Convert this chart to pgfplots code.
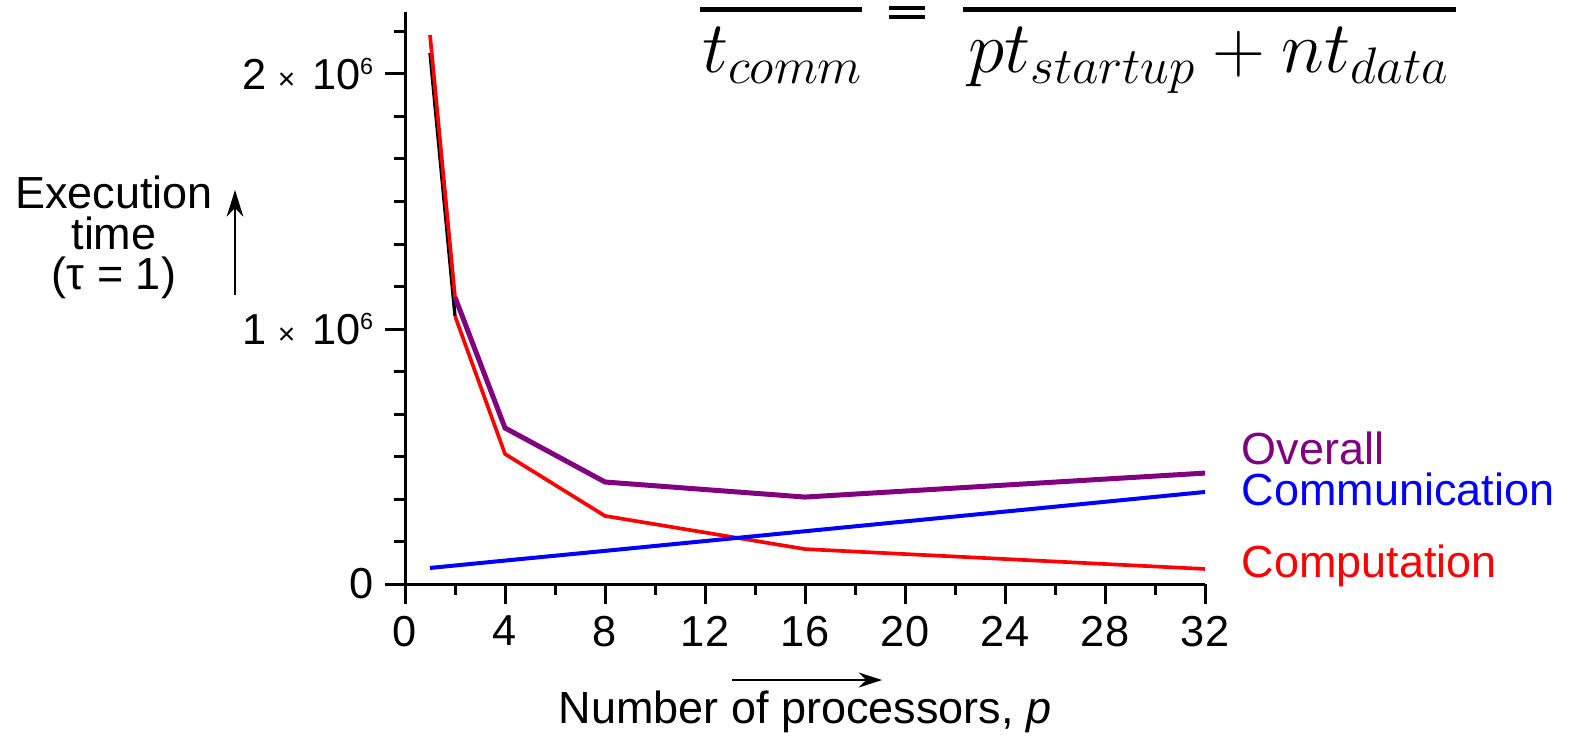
\RequirePackage{fix-cm}
\documentclass[border=0pt]{standalone}
\usepackage{fontspec}
\setmainfont{Liberation Sans}
\usepackage{pgfplots}
\pgfplotsset{compat=1.18}
\usetikzlibrary{arrows.meta}

\definecolor{mplpurple}{RGB}{128,0,128}
\definecolor{mplblue}{RGB}{0,0,255}
\definecolor{mplred}{RGB}{255,0,0}

\newcommand{\lab}{\fontsize{13.5}{16}\selectfont}
\newcommand{\tic}{\fontsize{13}{15}\selectfont}
\newcommand{\ysci}[1]{#1\hspace{3.5pt}{\fontsize{9}{9}\selectfont ×}\hspace{5pt}10\raisebox{4.5pt}{\fontsize{7}{7}\selectfont 6}}

\begin{document}
\begin{tikzpicture}
\useasboundingbox (0,0) rectangle (471pt,-220.5pt);
\begin{scope}[x=0.3pt,y=-0.3pt]
  \coordinate (O) at (405,584);
  % formula strip, cut off at the top edge
  \draw[line width=1.3pt] (700,9.5) -- (862,9.5);
  \draw[line width=1.3pt] (963,9.5) -- (1456,9.5);
  \draw[line width=1.2pt] (889,8) -- (925,8) (889,17) -- (925,17);
  \node[anchor=base,inner sep=0] at (783,72) {\fontsize{22}{26}\selectfont$t_{comm}$};
  \node[anchor=base,inner sep=0] at (1209,72) {\fontsize{22}{26}\selectfont$pt_{startup}+nt_{data}$};
  % y label, three tight lines
  \node[anchor=base,inner sep=0,font=\lab,text depth=0pt] at (114,208) {Execution};
  \node[anchor=base,inner sep=0,font=\lab,text depth=0pt,text height=7pt] at (114,249) {time};
  \node[anchor=base,inner sep=0,font=\lab,text height=8pt] at (114,289) {(τ = 1)};
  \draw[line width=0.7pt,-{Stealth[length=8pt,width=5pt]}] (235,295) -- (235,190);
  % x label
  \node[anchor=base,inner sep=0,font=\lab] at (805,723) {Number of processors, \textit{p}};
  \draw[line width=0.7pt,-{Stealth[length=7pt,width=4.5pt]}] (732,680) -- (882,680);
  % curve names
  \node[anchor=base west,inner sep=0,font=\lab,text=mplpurple] at (1241,464) {Overall};
  \node[anchor=base west,inner sep=0,font=\lab,text=mplblue] at (1241,505) {Communication};
  \node[anchor=base west,inner sep=0,font=\lab,text=mplred] at (1241,577) {Computation};
\end{scope}

\begin{axis}[
  at={(O)}, anchor=south west,
  scale only axis, width=240pt, height=171.6pt,
  xmin=0, xmax=32, ymin=0, ymax=2243000,
  axis lines=left, axis line style={-, line width=0.9pt},
  xtick={0,4,...,32}, minor xtick={2,6,...,30},
  ytick={0,1000000,2000000},
  yticklabels={0,\ysci{1},\ysci{2}},
  minor ytick={166667,333333,500000,666667,833333,1166667,1333333,1500000,1666667,1833333,2166667},
  scaled y ticks=false,
  tick align=outside,
  major tick length=6pt, minor tick length=3.3pt,
  tick style={black, line width=0.9pt},
  ticklabel style={font=\tic},
  /pgf/number format/assume math mode=true,
  clip=false,
]
% Computation, first segment black
\addplot[black, line width=1pt] coordinates {(1,2082000) (2,1051000)};
\addplot[mplred, line width=1.1pt] coordinates {(2,1051000) (4,510000) (8,267000) (16,137000) (32,59000)};
% Communication
\addplot[mplblue, line width=1.2pt] coordinates {(1,63000) (2,72600) (4,92000) (8,130000) (16,207000) (32,361000)};
% Overall
\addplot[mplpurple, line width=1.5pt] coordinates {(2,1125000) (4,612000) (8,400000) (16,341000) (32,435000)};
\addplot[mplred, line width=1.1pt] coordinates {(1,2153000) (2,1125000)};
\end{axis}
\end{tikzpicture}
\end{document}
